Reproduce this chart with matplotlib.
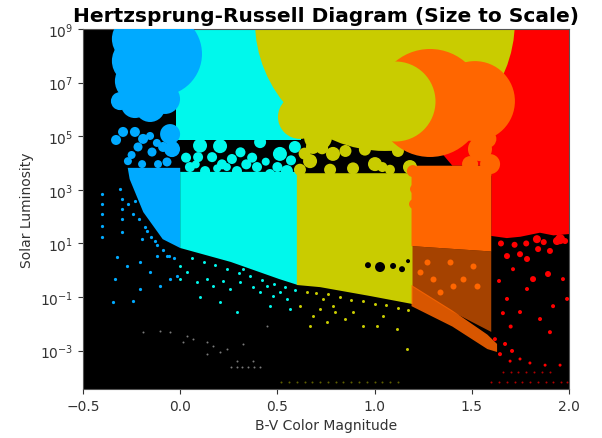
import numpy as np
import matplotlib
matplotlib.use("Agg")
import matplotlib.pyplot as plt

BLUE = "#00aaff"
CYAN = "#00f8ec"
OLIVE = "#c9cc00"
ORANGE = "#ff6600"
RED = "#ff0000"
GREY = "#7a7a7a"
DIM_OLIVE = "#5e5e00"

# ---------------- data (B-V, log10 luminosity, apparent radius) ----------------
# dense regions (polygons of the crowded star fields)
red_field_bv = [1.45, 2.0, 2.0, 1.92, 1.85, 1.75, 1.68, 1.60, 1.60, 1.40, 1.33, 1.33]
red_field_logL = [9.3, 9.3, 1.35, 1.30, 1.40, 1.25, 1.20, 1.28, 3.90, 3.90, 4.50, 5.50]

cyan_upper_bv = [-0.02, 0.62, 0.62, -0.02]
cyan_upper_logL = [9.3, 9.3, 4.85, 4.85]

blue_field_bv = [-0.27, 0.0, 0.0, -0.09, -0.19, -0.26]
blue_field_logL = [3.82, 3.82, 0.83, 1.16, 2.17, 3.40]

cyan_field_bv = [0.0, 0.605, 0.605, 0.51, 0.26, 0.0]
cyan_field_logL = [3.67, 3.67, -0.55, -0.33, 0.31, 0.83]

olive_field_bv = [0.60, 1.195, 1.195, 0.976, 0.72, 0.60]
olive_field_logL = [3.62, 3.62, -1.26, -0.96, -0.63, -0.55]

orange_field_bv = [1.19, 1.60, 1.60, 1.19]
orange_field_logL = [3.90, 3.90, 0.70, 0.90]
orange_sparse_bv = [1.19, 1.60, 1.60, 1.40, 1.19]
orange_sparse_logL = [0.90, 0.70, -2.30, -1.55, -0.60]
orange_seq_bv = [1.19, 1.40, 1.58, 1.63, 1.63, 1.58, 1.40, 1.19]
orange_seq_logL = [-0.55, -1.50, -2.40, -2.75, -3.05, -2.94, -2.10, -1.34]

# giant stars
olive_giant_bv = [1.053, 0.616, 0.709]
olive_giant_logL = [9.30, 5.72, 4.97]
olive_giant_r = [130, 22, 14]

blue_giant_bv = [-0.104, -0.233, -0.233, -0.233, -0.233, -0.310, -0.155, -0.078, -0.052, -0.042]
blue_giant_logL = [8.07, 8.63, 7.81, 7.06, 6.20, 6.31, 6.09, 6.39, 5.08, 4.52]
blue_giant_r = [42, 23, 23, 20, 14, 9, 15, 15, 10, 8]

blue_mid_bv = [-0.330, -0.294, -0.233, -0.191, -0.217, -0.145, -0.269, -0.068, -0.088, -0.037,
               -0.155, -0.114, -0.196, -0.250, -0.120]
blue_mid_logL = [4.86, 5.16, 5.16, 4.90, 4.60, 4.41, 4.07, 4.04, 4.60, 4.63,
                 5.01, 3.96, 3.96, 4.30, 4.75]
blue_mid_r = [5, 5, 5, 5, 4.5, 4.5, 4, 4.5, 5, 5, 4, 4, 4, 4, 4]

cyan_mid_bv = [0.205, 0.092, 0.164, 0.266, 0.050, 0.292, 0.395, 0.513, 0.549, 0.128, 0.462,
               0.102, 0.411, 0.030, 0.215, 0.340, 0.370, 0.240, 0.190, 0.440, 0.500,
               0.570, 0.590, 0.080, 0.310]
cyan_mid_logL = [4.63, 4.22, 4.22, 4.15, 3.85, 3.70, 3.85, 4.34, 3.70, 3.70, 3.59,
                 4.65, 4.78, 4.20, 3.95, 3.95, 4.20, 3.85, 3.80, 4.05, 3.85,
                 4.10, 4.60, 3.95, 4.40]
cyan_mid_r = [7, 5, 5, 5, 5, 5, 5, 7, 6, 5, 5,
              7, 6, 5, 5, 5, 5, 4, 4, 4, 5,
              5, 6, 4, 5]

olive_mid_bv = [0.683, 0.668, 0.786, 0.889, 1.002, 1.182, 0.616, 0.771, 1.079,
                0.640, 0.850, 0.950, 1.120, 0.730, 1.040]
olive_mid_logL = [4.60, 4.07, 4.34, 3.80, 3.96, 3.85, 3.75, 3.75, 3.75,
                  4.35, 4.45, 4.50, 4.45, 4.55, 3.85]
olive_mid_r = [7, 7, 7, 6, 7, 7, 6, 6, 5,
               6, 6, 6, 6, 6, 5]

orange_giant_bv = [1.285, 1.516, 1.542, 1.594, 1.491, 1.197, 1.208, 1.203, 1.580, 1.560]
orange_giant_logL = [6.24, 6.31, 4.52, 3.96, 3.96, 3.70, 3.03, 2.47, 4.90, 3.60]
orange_giant_r = [54, 40, 12, 10, 8, 6, 5, 5, 9, 8]

olive_top_bv = [1.105]
olive_top_logL = [6.31]
olive_top_r = [40]

# dark gaps inside the olive field
gap_bv = [1.028, 0.966, 1.095, 1.141, 1.172]
gap_logL = [0.12, 0.19, 0.16, 0.04, 0.34]
gap_r = [5, 3, 3, 3, 2]

# individual dwarf stars
blue_dot_bv = [-0.402, -0.402, -0.402, -0.402, -0.402, -0.310, -0.299, -0.299, -0.299, -0.299,
               -0.269, -0.243, -0.196, -0.325, -0.274, -0.207, -0.155, -0.104, -0.207, -0.335,
               -0.346, -0.243, -0.052, -0.119, -0.068, -0.016, -0.180, -0.150, -0.120, -0.090,
               -0.060, -0.030, -0.210, -0.170, -0.130, -0.230]
blue_dot_logL = [2.84, 2.47, 2.10, 1.65, 1.24, 3.03, 2.66, 2.28, 1.91, 1.43,
                 2.47, 2.10, 1.16, 0.49, 0.16, 0.31, -0.07, -0.59, -0.70, -0.33,
                 -1.19, -1.15, -0.33, 0.53, 0.53, -0.22, 1.60, 1.25, 0.95, 0.75,
                 0.55, 0.45, 1.90, 1.45, 1.10, 2.60]

cyan_dot_bv = [0.0, 0.086, 0.138, 0.169, 0.220, 0.256, 0.308, 0.374, 0.411, 0.447, 0.477, 0.513,
               0.549, 0.102, 0.205, 0.292, 0.462, 0.565, 0.0, 0.035, 0.323, 0.060, 0.120,
               0.180, 0.240, 0.300, 0.360, 0.420, 0.480, 0.540, 0.590]
cyan_dot_logL = [-0.33, -0.44, -0.33, -0.59, -0.40, -0.70, -0.44, -0.63, -0.81, -0.59, -0.96, -0.81,
                 -1.07, -1.00, -1.19, -1.56, -1.34, -1.45, 0.16, -0.07, 0.04, 0.45, 0.30,
                 0.20, 0.05, -0.10, -0.20, -0.35, -0.50, -0.62, -0.75]

olive_dot_bv = [0.735, 0.786, 0.796, 0.889, 0.940, 1.043, 0.848, 0.755, 1.167, 1.012, 1.115,
                0.616, 0.683, 0.668, 0.719, 0.650, 0.700, 0.760, 0.820, 0.880, 0.940,
                1.000, 1.060, 1.120, 1.170]
olive_dot_logL = [-1.07, -1.34, -1.56, -1.56, -2.08, -1.71, -1.82, -1.93, -2.94, -2.08, -2.19,
                  -1.34, -1.71, -2.08, -1.45, -0.80, -0.85, -0.90, -1.00, -1.10, -1.15,
                  -1.25, -1.30, -1.40, -1.50]

orange_dot_bv = [1.234, 1.300, 1.388, 1.455, 1.506, 1.403, 1.270, 1.527, 1.336]
orange_dot_logL = [-0.07, -0.33, 0.31, -0.33, 0.16, -0.59, 0.31, -0.59, -0.81]

red_dot_bv = [1.938, 1.902, 1.841, 1.784, 1.815, 1.892, 1.712, 1.784, 1.918, 1.681, 1.969, 1.851,
              1.902, 1.990, 1.748, 1.954, 1.980, 1.835, 1.748, 1.681,
              1.619, 1.671, 1.707, 1.645, 1.748, 1.799, 1.877, 1.954, 1.697,
              1.650, 1.720, 1.780, 1.870, 1.640, 1.660, 1.700]
red_dot_logL = [1.09, 0.72, 0.79, 0.42, -0.33, -0.14, 0.04, -0.70, -1.34, -1.07, -0.33, -1.82,
                -2.31, -1.07, -1.56, 1.16, 1.09, 1.16, 0.60, 0.53,
                -2.57, -2.75, -3.01, -3.13, -3.31, -3.46, -3.54, -3.54, -3.39,
                1.00, 0.95, 1.00, 1.05, -0.40, -1.60, -2.10]
red_dot_r = [4, 3, 3, 3, 3, 3, 2, 2, 2, 2, 2, 2,
             2, 2, 2, 5, 3, 4, 3, 3,
             2, 2, 2, 2, 1.5, 1.5, 1.5, 1.5, 1.5,
             3, 3, 3, 3, 2, 2, 2]

grey_dot_bv = [-0.104, -0.052, 0.035, 0.066, 0.138, 0.169, 0.205, 0.241, 0.014, 0.138, 0.323,
               -0.191, 0.292, 0.447, 0.374, 0.26, 0.29, 0.32, 0.35, 0.38, 0.41]
grey_dot_logL = [-2.27, -2.31, -2.46, -2.57, -2.68, -2.83, -3.05, -2.94, -2.68, -3.13, -2.75,
                 -2.31, -3.39, -2.08, -3.39, -3.61, -3.61, -3.61, -3.61, -3.61, -3.61]

dim_row_bv = [0.52, 0.56, 0.60, 0.64, 0.68, 0.72, 0.76, 0.80, 0.84, 0.88, 0.92, 0.96,
              1.00, 1.04, 1.08, 1.12]
dim_row_logL = [-4.17] * 16

red_row_bv = [1.60, 1.64, 1.68, 1.72, 1.76, 1.80, 1.84, 1.88, 1.92, 1.96, 1.99,
              1.66, 1.70, 1.74, 1.78, 1.82, 1.86, 1.90]
red_row_logL = [-4.17] * 11 + [-3.80] * 7

x_ticks = [-0.5, 0.0, 0.5, 1.0, 1.5, 2.0]
y_tick_exp = [-3, -1, 1, 3, 5, 7, 9]


def L(vals):
    return 10.0 ** np.asarray(vals, dtype=float)


def size(r):
    # apparent radius in pixels at 100 dpi -> marker area in points^2
    return (1.44 * np.asarray(r, dtype=float)) ** 2


fig = plt.figure(figsize=(6.02, 4.39), dpi=100)
ax = fig.add_axes([83 / 602, 1 - 390 / 439, (569 - 83) / 602, (390 - 30) / 439])
ax.set_facecolor("black")
ax.set_yscale("log")

ax.fill(red_field_bv, L(red_field_logL), color=RED, lw=0, zorder=1)
ax.fill(cyan_upper_bv, L(cyan_upper_logL), color=CYAN, lw=0, zorder=1)

ax.scatter(olive_giant_bv, L(olive_giant_logL), s=size(olive_giant_r), color=OLIVE, lw=0, zorder=2)
ax.scatter(blue_giant_bv, L(blue_giant_logL), s=size(blue_giant_r), color=BLUE, lw=0, zorder=3)

ax.fill(orange_sparse_bv, L(orange_sparse_logL), color=ORANGE, alpha=0.65, lw=0, zorder=3)

for bv, lg, c in [(blue_field_bv, blue_field_logL, BLUE),
                  (cyan_field_bv, cyan_field_logL, CYAN),
                  (olive_field_bv, olive_field_logL, OLIVE),
                  (orange_field_bv, orange_field_logL, ORANGE)]:
    ax.fill(bv, L(lg), color=c, lw=0, zorder=4)
ax.fill(orange_seq_bv, L(orange_seq_logL), color=ORANGE, alpha=0.85, lw=0, zorder=4)

ax.scatter(gap_bv, L(gap_logL), s=size(gap_r), color="black", lw=0, zorder=4.5)

ax.scatter(blue_mid_bv, L(blue_mid_logL), s=size(blue_mid_r), color=BLUE, lw=0, zorder=5)
ax.scatter(cyan_mid_bv, L(cyan_mid_logL), s=size(cyan_mid_r), color=CYAN, lw=0, zorder=5)
ax.scatter(olive_mid_bv, L(olive_mid_logL), s=size(olive_mid_r), color=OLIVE, lw=0, zorder=5)
ax.scatter(orange_giant_bv, L(orange_giant_logL), s=size(orange_giant_r), color=ORANGE, lw=0, zorder=6)
ax.scatter(olive_top_bv, L(olive_top_logL), s=size(olive_top_r), color=OLIVE, lw=0, zorder=7)

ax.scatter(blue_dot_bv, L(blue_dot_logL), s=size(1.6), color=BLUE, lw=0, zorder=5)
ax.scatter(cyan_dot_bv, L(cyan_dot_logL), s=size(1.5), color=CYAN, lw=0, zorder=5)
ax.scatter(olive_dot_bv, L(olive_dot_logL), s=size(1.5), color=OLIVE, lw=0, zorder=5)
ax.scatter(orange_dot_bv, L(orange_dot_logL), s=size(3), color=ORANGE, lw=0, zorder=5)
ax.scatter(red_dot_bv, L(red_dot_logL), s=size(red_dot_r), color=RED, lw=0, zorder=5)
ax.scatter(grey_dot_bv, L(grey_dot_logL), s=size(1.0), color=GREY, lw=0, zorder=5)
ax.scatter(dim_row_bv, L(dim_row_logL), s=size(1.0), color=DIM_OLIVE, lw=0, zorder=5)
ax.scatter(red_row_bv, L(red_row_logL), s=size(1.0), color="#b00000", lw=0, zorder=5)

ax.set_xlim(-0.5, 2.0)
ax.set_ylim(10 ** -4.43, 1e9)
ax.set_xticks(x_ticks)
ax.set_xticklabels([f"{t:.1f}".replace("-", "\u2212") for t in x_ticks])
ax.set_yticks([10.0 ** e for e in y_tick_exp])
ax.set_yticklabels([f"$10^{{{e}}}$" for e in y_tick_exp])
ax.yaxis.set_minor_locator(matplotlib.ticker.NullLocator())
ax.tick_params(labelsize=10, colors="#333333")
for sp in ax.spines.values():
    sp.set_color("#555555")

ax.set_xlabel("B-V Color Magnitude", fontsize=10, color="#333333")
ax.set_ylabel("Solar Luminosity", fontsize=10, color="#333333")
ax.set_title("Hertzsprung-Russell Diagram (Size to Scale)", fontsize=14.5, fontweight="bold", pad=6)

fig.savefig("out.png", dpi=100)
